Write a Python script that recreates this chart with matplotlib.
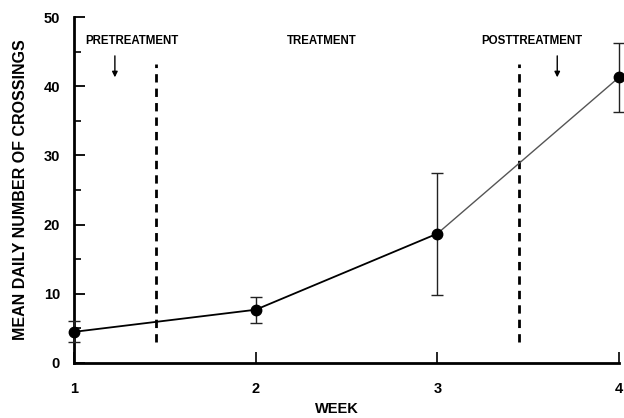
import matplotlib
matplotlib.use("Agg")
import matplotlib.pyplot as plt
from matplotlib.ticker import MultipleLocator

weeks = [1, 2, 3, 4]
means = [4.5, 7.7, 18.7, 41.3]
errs = [1.5, 1.9, 8.8, 5.0]
x_tick_labels = ["1", "2", "3", "4"]
y_ticks = [0, 10, 20, 30, 40, 50]
phase_bounds = [1.45, 3.45]
phase_labels = ["PRETREATMENT", "TREATMENT", "POSTTREATMENT"]
phase_label_x = [1.32, 2.365, 3.52]
arrow_x = [1.225, 3.66]

plt.rcParams['font.family'] = ['Liberation Sans', 'DejaVu Sans']
plt.rcParams['font.weight'] = 'bold'

fig = plt.figure(figsize=(6.24, 4.18), dpi=100)
ax = fig.add_axes([0.1186, 0.1316, 0.8734, 0.8274])

# line segments
ax.plot(weeks[:3], means[:3], color='black', lw=1.3, zorder=3)
ax.plot(weeks[2:], means[2:], color='#555555', lw=1.0, zorder=3)
ax.errorbar(weeks, means, yerr=errs, fmt='o', color='black', ms=7.5,
            ecolor='#222222', elinewidth=1.0, capsize=4, capthick=1.0, zorder=4,
            clip_on=False)

for xb in phase_bounds:
    ax.plot([xb, xb], [3.0, 43.2], color='black', lw=2.0, dashes=(3, 2.2))

for lab, xl in zip(phase_labels, phase_label_x):
    ax.text(xl, 46.6, lab, ha='center', va='center', fontsize=8.3, fontweight='bold')

for xa in arrow_x:
    ax.annotate('', xy=(xa, 40.9), xytext=(xa, 44.8),
                arrowprops=dict(arrowstyle='-|>', color='black', lw=1.0,
                                mutation_scale=8))

ax.set_xlim(1, 4)
ax.set_ylim(0, 50)
ax.set_xticks(weeks)
ax.set_xticklabels(x_tick_labels, fontsize=10.5, fontweight='bold')
ax.set_yticks(y_ticks)
ax.set_yticklabels([str(v) for v in y_ticks], fontsize=10.5, fontweight='bold')
ax.yaxis.set_minor_locator(MultipleLocator(5))
ax.tick_params(axis='y', which='major', direction='in', length=8, width=1.3, pad=10)
ax.tick_params(axis='y', which='minor', direction='in', length=5, width=1.2)
ax.tick_params(axis='x', which='major', direction='in', length=8, width=1.2, pad=14)

for s in ['top', 'right']:
    ax.spines[s].set_visible(False)
for s in ['left', 'bottom']:
    ax.spines[s].set_linewidth(2.0)

ax.set_xlabel('WEEK', fontsize=10.5, fontweight='bold')
ax.xaxis.set_label_coords(0.483, -0.113)
ax.set_ylabel('MEAN DAILY NUMBER OF CROSSINGS', fontsize=11.5, fontweight='bold', labelpad=11)

fig.savefig('out.png', dpi=100)
